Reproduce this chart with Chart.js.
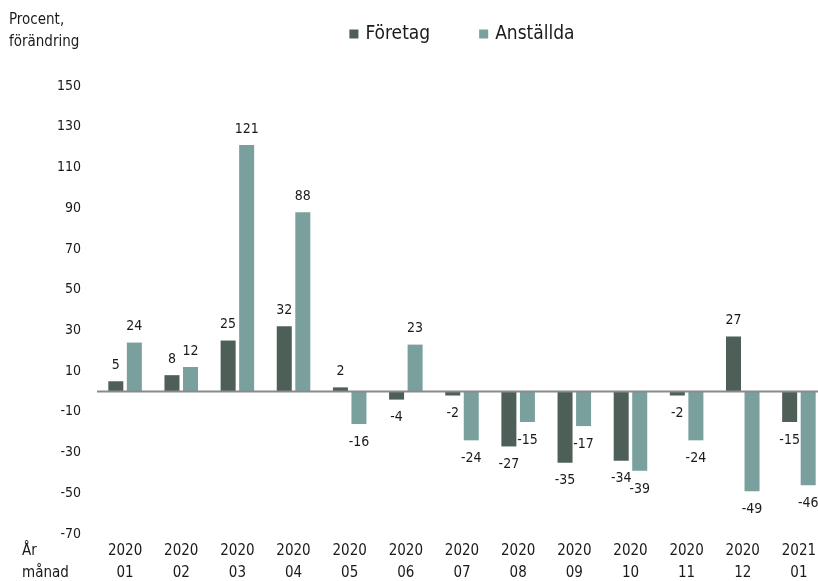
<!DOCTYPE html>
<html>
<head>
<meta charset="utf-8">
<script src="https://cdn.jsdelivr.net/npm/chart.js@4.4.1/dist/chart.umd.min.js"></script>
<style>
  html, body { margin: 0; padding: 0; background: #ffffff; overflow: hidden; }
  #wrap { width: 830px; height: 581px; }
</style>
</head>
<body>
<div id="wrap"><canvas id="c" width="830" height="581"></canvas></div>
<script>
// ---- Data ----
const years  = ['2020','2020','2020','2020','2020','2020','2020','2020','2020','2020','2020','2020','2021'];
const months = ['01','02','03','04','05','06','07','08','09','10','11','12','01'];
const foretag   = [5, 8, 25, 32, 2, -4, -2, -27, -35, -34, -2, 27, -15];
const anstallda = [24, 12, 121, 88, -16, 23, -24, -15, -17, -39, -24, -49, -46];
const yTicks = [-70, -50, -30, -10, 10, 30, 50, 70, 90, 110, 130, 150];
const seriesNames = ['Företag', 'Anställda'];
const yTitle = ['Procent,', 'förändring'];
const xTitle = ['År', 'månad'];

const FONT = '"DejaVu Sans Condensed", "DejaVu Sans", sans-serif';
const TXT = '#1a1a1a';
const COL_F = '#4e5f58';
const COL_A = '#79a09d';

const labels = years.map((y, i) => [y, months[i]]);

const extras = {
  id: 'extras',
  afterDatasetsDraw(chart) {
    const ctx = chart.ctx;
    const ca = chart.chartArea;
    const ys = chart.scales.y;
    // zero line
    const y0 = ys.getPixelForValue(0);
    ctx.save();
    ctx.strokeStyle = '#8a8a8a';
    ctx.lineWidth = 2;
    ctx.beginPath();
    ctx.moveTo(ca.left, y0);
    ctx.lineTo(ca.right, y0);
    ctx.stroke();
    // data labels
    ctx.fillStyle = TXT;
    ctx.font = '14px ' + FONT;
    ctx.textAlign = 'center';
    ctx.textBaseline = 'middle';
    chart.data.datasets.forEach((ds, di) => {
      const meta = chart.getDatasetMeta(di);
      meta.data.forEach((el, i) => {
        const v = ds.data[i];
        const y = v >= 0 ? el.y - 16 : el.y + 18;
        ctx.fillText(String(v), el.x, y);
      });
    });
    ctx.restore();
  },
  afterDraw(chart) {
    const ctx = chart.ctx;
    const ca = chart.chartArea;
    ctx.save();
    ctx.fillStyle = TXT;
    ctx.font = '15px ' + FONT;
    ctx.textAlign = 'left';
    ctx.textBaseline = 'middle';
    ctx.fillText(yTitle[0], 9, 20);
    ctx.fillText(yTitle[1], 9, 42);
    ctx.fillText(xTitle[0], 22, 551);
    ctx.fillText(xTitle[1], 22, 573);
    // legend
    ctx.font = '19px ' + FONT;
    const box = 9, gapText = 7, gapItems = 49;
    const widths = seriesNames.map(n => box + gapText + ctx.measureText(n).width);
    const total = widths[0] + gapItems + widths[1];
    let x = (ca.left + ca.right) / 2 - total / 2;
    const ly = 34;
    chart.data.datasets.forEach((ds, i) => {
      ctx.fillStyle = ds.backgroundColor;
      ctx.fillRect(x, ly - box / 2, box, box);
      ctx.fillStyle = TXT;
      ctx.fillText(ds.label, x + box + gapText, ly);
      x += widths[i] + gapItems;
    });
    ctx.restore();
  }
};

new Chart(document.getElementById('c'), {
  type: 'bar',
  data: {
    labels: labels,
    datasets: [
      { label: seriesNames[0], data: foretag, backgroundColor: COL_F,
        categoryPercentage: 0.66, barPercentage: 0.81 },
      { label: seriesNames[1], data: anstallda, backgroundColor: COL_A,
        categoryPercentage: 0.66, barPercentage: 0.81 }
    ]
  },
  options: {
    responsive: false,
    animation: false,
    layout: { padding: { top: 86, left: 0, right: 3, bottom: 0 } },
    plugins: { legend: { display: false }, tooltip: { enabled: false } },
    scales: {
      x: {
        grid: { display: false, drawTicks: false },
        border: { display: false },
        ticks: { color: TXT, font: { family: FONT, size: 15, lineHeight: 1.47 }, padding: 6, maxRotation: 0, autoSkip: false },
        afterFit(scale) { scale.height = 47; }
      },
      y: {
        min: -70, max: 150,
        grid: { display: false, drawTicks: false },
        border: { display: false },
        afterBuildTicks(scale) { scale.ticks = yTicks.map(v => ({ value: v })); },
        ticks: { color: TXT, font: { family: FONT, size: 14 }, padding: 16 },
        afterFit(scale) { scale.width = 97; }
      }
    }
  },
  plugins: [extras]
});
</script>
</body>
</html>
